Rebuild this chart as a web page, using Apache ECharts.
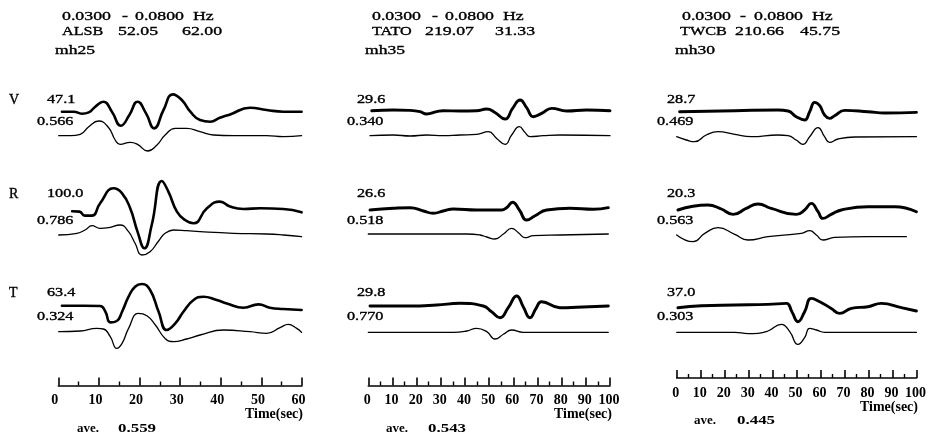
<!DOCTYPE html>
<html><head><meta charset="utf-8">
<script src="https://cdn.jsdelivr.net/npm/echarts@6/dist/echarts.min.js"></script>
<style>html,body{margin:0;padding:0;background:#fff}#c{width:929px;height:441px}</style>
</head><body><div id="c"></div>
<script>
// ---------------- DATA ----------------
const components = ['V', 'R', 'T'];
const bandTokens = ['0.0300', '-', '0.0800', 'Hz'];
const stations = ['ALSB', 'TATO', 'TWCB'];
const azimuths = ['52.05', '219.07', '210.66'];
const distances = ['62.00', '31.33', '45.75'];
const models = ['mh25', 'mh35', 'mh30'];
const timeMax = [60, 100, 100];
const axisTitle = 'Time(sec)';
const aveLabel = 'ave.';
const aveCC = ['0.559', '0.543', '0.445'];

const ALSB_amp = ['47.1', '100.0', '63.4'];
const ALSB_cc = ['0.566', '0.786', '0.324'];
const TATO_amp = ['29.6', '26.6', '29.8'];
const TATO_cc = ['0.340', '0.518', '0.770'];
const TWCB_amp = ['28.7', '20.3', '37.0'];
const TWCB_cc = ['0.469', '0.563', '0.303'];

// [time (s), relative amplitude]
const ALSB_V_obs = [[0.9,0],[3.8,0],[5.8,-2],[7.5,-0.7],[9.1,5],[11.1,10],[13.2,0],[15.4,-14],[17.5,-3.3],[19.5,10],[21.6,-1.7],[23.6,-16.7],[25.9,1.7],[28.2,17.3],[30.4,11.7],[32.5,0],[34.9,-8.3],[37.4,-10],[39.8,-6],[42.3,-2.7],[47.2,4],[51.3,1.7],[55.4,0],[59.9,0]];
const ALSB_V_syn = [[0.1,0],[3.0,0],[5.4,1.3],[7.5,9],[9.9,14.7],[12.4,8],[14.0,-4.3],[15.2,-8.7],[17.7,-6.7],[19.5,-8.7],[22.0,-15.3],[24.3,-9.3],[26.3,0.7],[28.8,7.3],[31.6,7.3],[34.9,4],[38.2,0.7],[43.1,0],[51.3,0],[55.4,-1],[59.9,0]];
const ALSB_R_obs = [[3.4,1],[5.2,0.7],[6.5,-3.3],[8.3,-3.3],[10.3,9],[13.6,24],[15.7,19],[17.7,4],[19.5,-19.3],[21.2,-36],[23.0,-12.7],[25.5,31.3],[27.1,20.7],[29.2,0.7],[31.2,-7.7],[33.3,-11],[36.6,4],[39.8,10.7],[42.3,5.7],[45.6,3.3],[49.7,4],[55.4,3.3],[59.9,0]];
const ALSB_R_syn = [[0.1,0],[4.6,1.7],[6.6,5],[8.3,9.3],[10.3,6.7],[12.4,7.3],[15.2,10],[17.3,3.3],[18.9,-8.3],[20.6,-20],[22.6,-16.7],[24.7,-6],[26.3,1.7],[28.4,5],[31.6,4.3],[34.9,3.3],[43.1,1.7],[51.3,1],[55.4,0],[59.9,-1.7]];
const ALSB_T_obs = [[0.9,0],[6.2,0],[10.3,-0.3],[11.6,-6],[12.8,-16.7],[14.4,-15.3],[15.7,-6],[17.3,9],[18.9,19],[20.6,21.7],[22.6,15.7],[24.7,-6],[26.7,-24.3],[28.8,-17.7],[30.8,-6],[33.3,5.7],[35.7,9],[39.0,5.7],[41.5,2.3],[45.6,-2],[49.3,1.3],[52.1,-2],[55.4,-3.3],[59.9,-4.3]];
const ALSB_T_syn = [[0.1,0],[5.4,0.7],[9.5,3.3],[11.1,2.7],[12.8,-5],[14.4,-16.7],[15.7,-11.7],[17.3,3.3],[19.7,18.3],[21.8,16],[23.9,6.7],[26.3,-6.7],[28.4,-10],[31.6,-7.3],[34.9,-3.3],[40.7,1.7],[47.2,0],[51.3,-1.7],[54.6,4],[56.6,7.3],[58.7,3.3],[59.9,-0.7]];

const TATO_V_obs = [[1.4,0],[10.4,0.7],[17.3,0.3],[21.4,-1],[24.1,-3.3],[28.3,-1],[31.0,0],[37.9,-0.3],[44.8,0],[49.0,1.7],[52.4,-1.7],[56.6,-8.3],[59.7,2.3],[62.8,10.7],[65.5,3],[68.3,-6],[71.7,-2.7],[75.9,2.3],[82.1,-0.3],[90.3,0.7],[100,0]];
const TATO_V_syn = [[0.7,0],[10.4,0.7],[17.3,-0.3],[24.1,0.7],[31.0,0],[37.9,0.7],[44.8,1.3],[49.7,4],[53.1,-2.7],[56.6,-8.7],[59.3,0.7],[62.5,9],[64.8,3.3],[66.9,-1],[72.4,0],[79.3,0.7],[100,0]];
const TATO_R_obs = [[0.7,0],[10.4,1.7],[17.3,2.3],[22.8,-1],[26.9,-3.3],[31.0,-1],[35.2,1],[44.8,0],[55.2,0],[57.2,2.3],[59.7,7.7],[62.5,0],[65.5,-10],[69.0,-5.7],[73.8,0],[83.5,1.7],[93.1,0.7],[99.3,2.3]];
const TATO_R_syn = [[0,0],[24.1,0],[40.7,0],[46.2,-1],[49.0,-3],[52.4,-5],[55.9,0],[59.3,5.7],[62.1,1.3],[64.8,-3.7],[68.3,-1.7],[79.3,-1],[99.3,0]];
const TATO_T_obs = [[0.7,0],[17.3,0],[28.3,1],[37.9,2.7],[47.6,0],[51.0,-5.7],[54.5,-11.7],[57.9,-1.7],[61.4,10],[64.1,-0.7],[66.9,-11.7],[69.4,-2.3],[71.7,4.3],[79.3,-1.7],[86.2,-1.3],[99.3,0]];
const TATO_T_syn = [[0,0],[24.1,0],[35.2,0],[40.7,1.3],[44.8,4],[49.0,0.7],[52.4,-6.7],[55.9,-2],[59.3,2.3],[64.1,0],[99.3,0]];

const TWCB_V_obs = [[1.2,0],[24.2,1],[42.2,1.7],[46.4,0.7],[49.8,-5],[53.3,-8.3],[55.4,0],[57.5,9.3],[59.6,6],[61.6,-3.3],[63.7,-6.7],[65.8,-4],[70.0,1.3],[79.7,0],[86.7,-1.3],[99.9,-0.7]];
const TWCB_V_syn = [[0,0],[4.0,-3.3],[7.5,-5],[12.3,1.7],[17.2,5],[24.2,2.3],[31.1,0],[42.2,1.7],[46.4,1],[49.8,-3.3],[52.6,-7.7],[55.4,0],[58.9,9],[61.6,0],[63.7,-5.7],[67.2,-2.3],[74.2,-0.3],[99.9,0]];
const TWCB_R_obs = [[0.5,1.7],[13.0,6.7],[18.6,2.7],[23.5,-2.7],[29.0,3.3],[33.9,7.7],[39.4,3.3],[49.8,-2.7],[53.3,1.7],[56.1,8.3],[58.9,0],[60.9,-6.7],[64.4,-2.7],[68.6,1.7],[79.7,5],[90.8,5],[99.9,0]];
const TWCB_R_syn = [[0,1.7],[6.8,-5],[11.7,3.3],[17.2,9],[24.2,2.3],[29.7,-3.3],[38.0,0],[51.9,3.3],[55.4,6],[58.2,1.7],[60.9,-3.3],[65.8,-0.7],[79.7,0],[95.7,0]];
const TWCB_T_obs = [[0.5,-1],[10.3,1],[24.2,1.7],[38.0,2.3],[45.7,3.3],[48.0,-5],[50.5,-15],[53.3,-5],[56.1,8.3],[59.6,5],[64.4,-1.7],[67.9,-6.7],[72.8,-1.7],[79.7,0],[85.3,3.3],[93.6,-1],[99.9,-4.3]];
const TWCB_T_syn = [[0,0],[24.2,0],[29.7,-1.3],[33.9,-1],[38.0,1.3],[43.6,8],[47.1,0.7],[50.5,-12],[53.3,-5.3],[55.4,4],[58.2,2.3],[61.6,0],[99.9,0]];

// ---------------- LAYOUT ----------------
const traces = [
  [[ALSB_V_obs, ALSB_V_syn], [ALSB_R_obs, ALSB_R_syn], [ALSB_T_obs, ALSB_T_syn]],
  [[TATO_V_obs, TATO_V_syn], [TATO_R_obs, TATO_R_syn], [TATO_T_obs, TATO_T_syn]],
  [[TWCB_V_obs, TWCB_V_syn], [TWCB_R_obs, TWCB_R_syn], [TWCB_T_obs, TWCB_T_syn]]
];
const ampLabels = [ALSB_amp, TATO_amp, TWCB_amp];
const ccLabels = [ALSB_cc, TATO_cc, TWCB_cc];

const panels = [
  { left: 58.3, width: 243.7, base: [[111.7, 135.7], [212.3, 235], [305.7, 331.7]], axisY: 385.5, labelShift: 7,
    hdrX: 62, bandOff: [0, 60, 73, 131], line2X: [62, 118, 182], line3X: 55, ampX: 47, ccX: 37, timeRight: 303, aveX: 77, aveValX: 118, obsW: 2.6 },
  { left: 368.3, width: 241.7, base: [[110.7, 135.7], [210, 234], [306, 332.3]], axisY: 385.5, labelShift: 2,
    hdrX: 372, bandOff: [0, 60, 73, 131], line2X: [372, 425, 495], line3X: 365, ampX: 357, ccX: 347, timeRight: 612, aveX: 386, aveValX: 428, obsW: 2.9 },
  { left: 676.7, width: 240, base: [[111.7, 136.7], [211.7, 236.7], [306.7, 332.3]], axisY: 378, labelShift: 2,
    hdrX: 682, bandOff: [0, 58, 72, 130], line2X: [680, 735, 800], line3X: 675, ampX: 667, ccX: 657, timeRight: 918, aveX: 694, aveValX: 737, obsW: 2.9 }
];
const rowLabelY = [[100, 122], [194, 221], [293, 317]];
const FONT = '"Liberation Serif", "Times New Roman", serif';

const grids = [], xAxes = [], yAxes = [], series = [], graphics = [];
const AMP = 40;

function txt(text, x, y, size, opts) {
  opts = opts || {};
  graphics.push({
    type: 'text', x: x, y: y, scaleX: opts.sx || 1, silent: true,
    style: {
      text: text, fill: '#000', stroke: '#000', lineWidth: opts.bold ? 0 : 0.35,
      font: (opts.bold ? 'bold ' : '') + size + 'px ' + FONT,
      align: opts.align || 'left', textAlign: opts.align || 'left',
      verticalAlign: 'middle', textVerticalAlign: 'middle'
    }
  });
}

panels.forEach((p, pi) => {
  traces[pi].forEach((row, ri) => {
    row.forEach((data, k) => {
      const gi = grids.length;
      const base = p.base[ri][k];
      grids.push({ left: p.left, width: p.width, top: base - AMP, height: 2 * AMP });
      xAxes.push({ type: 'value', gridIndex: gi, min: 0, max: timeMax[pi], show: false });
      yAxes.push({ type: 'value', gridIndex: gi, min: -AMP, max: AMP, show: false });
      series.push({
        type: 'line', xAxisIndex: gi, yAxisIndex: gi, data: data,
        showSymbol: false, symbol: 'none', smooth: 0.5,
        lineStyle: { color: '#000', width: k === 0 ? p.obsW : 1.3, join: 'round', cap: 'round' },
        silent: true, animation: false, clip: false
      });
    });
    if (pi === 0) txt(components[ri], 9, rowLabelY[ri][0], 14);
    txt(ampLabels[pi][ri], p.ampX, rowLabelY[ri][0], 12, { sx: 1.35 });
    txt(ccLabels[pi][ri], p.ccX, rowLabelY[ri][1], 12, { sx: 1.35 });
  });

  const gi = grids.length;
  grids.push({ left: p.left, width: p.width, top: p.axisY - 20, height: 20 });
  xAxes.push({
    type: 'value', gridIndex: gi, min: 0, max: timeMax[pi], interval: 10,
    axisLine: { show: true, onZero: false, lineStyle: { color: '#000', width: 1.6 } },
    axisTick: { show: true, inside: true, length: 8, lineStyle: { color: '#000', width: 1.6 } },
    minorTick: { show: true, splitNumber: 2, length: 4, lineStyle: { color: '#000', width: 1.4 } },
    splitLine: { show: false }, minorSplitLine: { show: false },
    axisLabel: { show: true, margin: 8, color: '#000', fontFamily: FONT, fontWeight: 'bold', fontSize: 14,
      padding: [0, p.labelShift, 0, 0], showMinLabel: true, showMaxLabel: true }
  });
  yAxes.push({ type: 'value', gridIndex: gi, min: 0, max: 1, show: false });

  bandTokens.forEach((t, i) => txt(t, p.hdrX + p.bandOff[i], 16, 13.5, { sx: 1.32 }));
  txt(stations[pi], p.line2X[0], 31, 13.5, { sx: 1.2 });
  txt(azimuths[pi], p.line2X[1], 31, 13.5, { sx: 1.32 });
  txt(distances[pi], p.line2X[2], 31, 13.5, { sx: 1.32 });
  txt(models[pi], p.line3X, 50, 13.5, { sx: 1.3 });

  txt(axisTitle, p.timeRight, p.axisY + 29, 14, { bold: true, align: 'right' });
  txt(aveLabel, p.aveX, p.axisY + 43, 13, { bold: true });
  txt(aveCC[pi], p.aveValX, p.axisY + 43, 13, { bold: true, sx: 1.3 });
});

const chart = echarts.init(document.getElementById('c'), null, { renderer: 'canvas' });
chart.setOption({
  backgroundColor: '#fff',
  animation: false,
  grid: grids, xAxis: xAxes, yAxis: yAxes, series: series,
  graphic: { elements: graphics }
});
</script></body></html>
